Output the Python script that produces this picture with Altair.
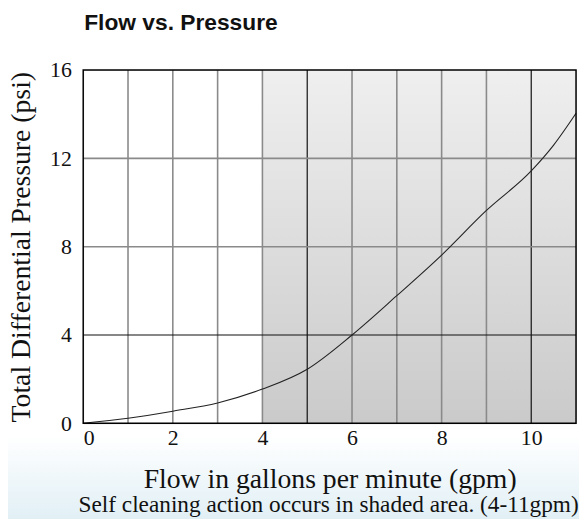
import altair as alt
import pandas as pd

# ---- data ----
flow_gpm = [0, 1, 2, 3, 4, 5, 6, 7, 8, 9, 10, 10.5, 11]
pressure_psi = [0, 0.23, 0.55, 0.92, 1.55, 2.45, 4.0, 5.78, 7.62, 9.64, 11.43, 12.6, 14.04]

x_ticks = [0, 2, 4, 6, 8, 10]
y_ticks = [0, 4, 8, 12, 16]
x_domain = [0, 11]
y_domain = [0, 16]

shade_start = [4]
shade_end = [11]

vgrid = [1, 2, 3, 4, 5, 6, 7, 8, 9, 10]
vgrid_dark = [False, False, False, False, True, False, False, False, False, True]
hgrid = [4, 8, 12]
hgrid_dark = [True, False, False]

title_text = "Flow vs. Pressure"
x_title = "Flow in gallons per minute (gpm)"
y_title = "Total Differential Pressure (psi)"
caption = "Self cleaning action occurs in shaded area. (4-11gpm)"

W, H = 498, 357
SERIF = "Liberation Serif"

curve_df = pd.DataFrame({"flow": flow_gpm, "psi": pressure_psi})
shade_df = pd.DataFrame({"x": shade_start, "x2": shade_end, "y": [y_domain[0]], "y2": [y_domain[1]]})
vg_df = pd.DataFrame({"x": vgrid, "dark": vgrid_dark})
hg_df = pd.DataFrame({"y": hgrid, "dark": hgrid_dark})
frame_df = pd.DataFrame({"x": [x_domain[0]], "x2": [x_domain[1]], "y": [y_domain[0]], "y2": [y_domain[1]]})

xscale = alt.Scale(domain=x_domain, nice=False, zero=False)
yscale = alt.Scale(domain=y_domain, nice=False, zero=False)

x_axis = alt.Axis(
    values=x_ticks, grid=False, ticks=False, domain=False, zindex=2,
    labelFont=SERIF, labelFontSize=22, labelColor="#111", labelPadding=4,
    title=x_title, titleFont=SERIF, titleFontSize=28, titleFontWeight="normal",
    titleColor="#111", titleBaseline="alphabetic", titleY=65,
)
y_axis = alt.Axis(
    values=y_ticks, grid=False, ticks=False, domain=False, zindex=2,
    labelFont=SERIF, labelFontSize=22, labelColor="#111", labelPadding=12,
    title=y_title, titleFont=SERIF, titleFontSize=28, titleFontWeight="normal",
    titleColor="#111", titleBaseline="alphabetic", titleAngle=270,
    titleX=-54, titleY=H / 2, titleAlign="center",
)

# light bluish backdrop below the plot
backdrop = alt.Chart(pd.DataFrame({"k": [0]})).mark_rect(
    fill=alt.Gradient(
        gradient="linear", x1=0, x2=0, y1=0, y2=1,
        stops=[alt.GradientStop(color="#ffffff", offset=0),
               alt.GradientStop(color="#e0eff5", offset=1)],
    )
).encode(
    x=alt.value(-80), x2=alt.value(W + 10), y=alt.value(H + 12), y2=alt.value(H + 100)
)

shade = alt.Chart(shade_df).mark_rect(
    fill=alt.Gradient(
        gradient="linear", x1=0, x2=0, y1=0, y2=1,
        stops=[alt.GradientStop(color="#efefef", offset=0),
               alt.GradientStop(color="#cacaca", offset=1)],
    )
).encode(
    x=alt.X("x:Q", scale=xscale, axis=x_axis),
    x2="x2:Q",
    y=alt.Y("y:Q", scale=yscale, axis=y_axis),
    y2="y2:Q",
)

vlines = alt.Chart(vg_df).mark_rule().encode(
    x=alt.X("x:Q", scale=xscale),
    color=alt.condition("datum.dark", alt.value("#111111"), alt.value("#8a8a8a")),
    strokeWidth=alt.condition("datum.dark", alt.value(1.2), alt.value(1.6)),
)
hlines = alt.Chart(hg_df).mark_rule().encode(
    y=alt.Y("y:Q", scale=yscale),
    color=alt.condition("datum.dark", alt.value("#111111"), alt.value("#8a8a8a")),
    strokeWidth=alt.condition("datum.dark", alt.value(1.2), alt.value(1.6)),
)

curve = alt.Chart(curve_df).mark_line(
    color="#222222", strokeWidth=1.1, interpolate="monotone"
).encode(
    x=alt.X("flow:Q", scale=xscale),
    y=alt.Y("psi:Q", scale=yscale),
)

frame = alt.Chart(frame_df).mark_rect(
    fillOpacity=0, stroke="#000000", strokeWidth=1.5
).encode(
    x=alt.X("x:Q", scale=xscale), x2="x2:Q",
    y=alt.Y("y:Q", scale=yscale), y2="y2:Q",
)

cap = alt.Chart(pd.DataFrame({"t": [caption]})).mark_text(
    font=SERIF, fontSize=23.5, color="#111", align="center", baseline="alphabetic"
).encode(
    x=alt.value(W / 2 - 1), y=alt.value(H + 90), text="t:N"
)

ttl = alt.Chart(pd.DataFrame({"t": [title_text]})).mark_text(
    font="Liberation Sans", fontSize=23, fontWeight="bold", color="#111",
    align="left", baseline="alphabetic"
).encode(
    x=alt.value(1), y=alt.value(-40), text="t:N"
)

chart = alt.layer(backdrop, shade, vlines, hlines, curve, frame, cap, ttl).properties(
    width=W, height=H,
    autosize=alt.AutoSizeParams(type="none"),
    padding={"left": 76, "top": 60, "right": 3, "bottom": 94},
).configure_view(stroke=None).configure(background="white")

chart.save("out.html", embed_options={"renderer": "svg", "actions": False})
